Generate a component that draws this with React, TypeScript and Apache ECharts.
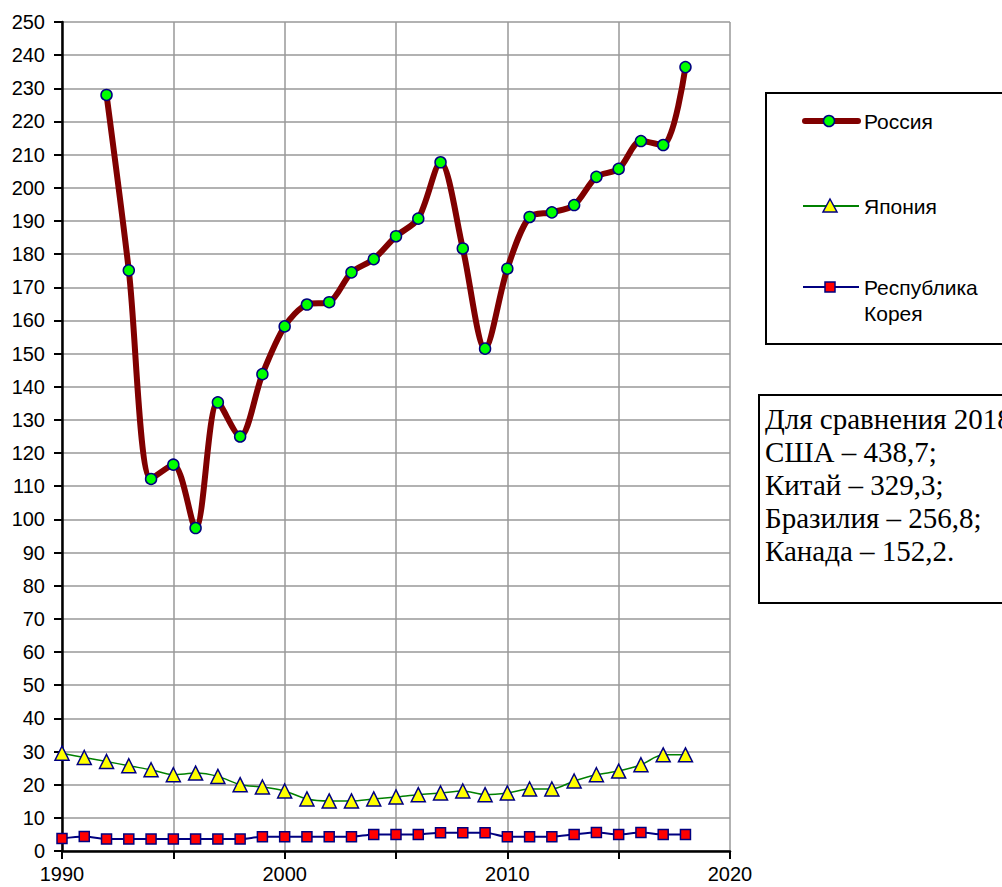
import React, { useEffect, useRef } from "react";
import * as echarts from "echarts";

const years = [1990, 1991, 1992, 1993, 1994, 1995, 1996, 1997, 1998, 1999, 2000, 2001, 2002, 2003, 2004, 2005, 2006, 2007, 2008, 2009, 2010, 2011, 2012, 2013, 2014, 2015, 2016, 2017, 2018];
const russia = [null, null, 228.0, 175.1, 112.2, 116.5, 97.4, 135.3, 125.0, 143.8, 158.2, 164.8, 165.5, 174.5, 178.5, 185.4, 190.7, 207.7, 181.7, 151.5, 175.6, 191.2, 192.6, 194.8, 203.3, 205.7, 214.1, 212.9, 236.4];
const japan = [29.5, 28.2, 27.0, 25.7, 24.5, 23.0, 23.5, 22.5, 20.0, 19.3, 18.1, 15.7, 15.1, 15.1, 15.7, 16.3, 17.0, 17.5, 18.1, 17.0, 17.5, 18.7, 18.7, 21.1, 23.0, 24.1, 26.0, 29.0, 29.0];
const korea = [3.8, 4.4, 3.6, 3.6, 3.6, 3.6, 3.6, 3.6, 3.6, 4.3, 4.3, 4.3, 4.3, 4.3, 5.0, 5.0, 5.0, 5.5, 5.5, 5.5, 4.3, 4.3, 4.3, 5.0, 5.6, 5.0, 5.6, 5.0, 5.0];
const seriesNames = ["Россия", "Япония", "Республика Корея"];
const noteLines = ["Для сравнения 2018 г.:", "США – 438,7;", "Китай – 329,3;", "Бразилия – 256,8;", "Канада – 152,2."];

const SANS = "'Liberation Sans', Arial, sans-serif";
const SERIF = "'Liberation Serif', 'Times New Roman', serif";

function pairs(vals: (number | null)[]) {
  return years.map((y, i) => [y, vals[i]]);
}

export default function App() {
  const ref = useRef<HTMLDivElement>(null);
  useEffect(() => {
    if (!ref.current) return;
    const chart = echarts.init(ref.current, undefined, { renderer: "svg" });
    const option: any = {
      animation: false,
      backgroundColor: "#ffffff",
      grid: { left: 62, right: 272, top: 22, bottom: 36, containLabel: false },
      xAxis: {
        type: "value",
        min: 1990,
        max: 2020,
        interval: 5,
        axisLine: { show: true, onZero: false, lineStyle: { color: "#000", width: 2.5 } },
        axisTick: { show: true, length: 8, lineStyle: { color: "#000", width: 2 } },
        axisLabel: {
          color: "#000",
          fontSize: 20,
          fontFamily: SANS,
          margin: 13,
          formatter: (v: number) => (v % 10 === 0 ? String(v) : ""),
        },
        splitLine: { show: true, lineStyle: { color: "#999999", width: 1.5 } },
      },
      yAxis: {
        type: "value",
        min: 0,
        max: 250,
        interval: 10,
        axisLine: { show: true, lineStyle: { color: "#000", width: 2.5 } },
        axisTick: { show: true, length: 8, lineStyle: { color: "#000", width: 2 } },
        axisLabel: { color: "#000", fontSize: 20, fontFamily: SANS, margin: 17 },
        splitLine: { show: true, lineStyle: { color: "#999999", width: 1.5 } },
      },
      series: [
        {
          name: seriesNames[2],
          type: "line",
          data: pairs(korea),
          smooth: 0.3,
          symbol: "rect",
          symbolSize: 10,
          lineStyle: { color: "#000080", width: 2 },
          itemStyle: { color: "#ff0000", borderColor: "#000080", borderWidth: 1.5 },
          z: 3,
        },
        {
          name: seriesNames[1],
          type: "line",
          data: pairs(japan),
          smooth: 0.3,
          symbol: "triangle",
          symbolSize: 14,
          lineStyle: { color: "#008000", width: 1.5 },
          itemStyle: { color: "#ffff00", borderColor: "#000080", borderWidth: 1.5 },
          z: 4,
        },
        {
          name: seriesNames[0],
          type: "line",
          data: pairs(russia),
          smooth: 0.3,
          connectNulls: false,
          symbol: "circle",
          symbolSize: 11,
          lineStyle: { color: "#800000", width: 6 },
          itemStyle: { color: "#00ff00", borderColor: "#000080", borderWidth: 1.5 },
          z: 5,
        },
      ],
      graphic: [
        {
          type: "rect",
          shape: { x: 766, y: 93, width: 300, height: 251 },
          style: { fill: "#fff", stroke: "#000", lineWidth: 2 },
        },
        {
          type: "line",
          shape: { x1: 805, y1: 121, x2: 858, y2: 121 },
          style: { stroke: "#800000", lineWidth: 6, lineCap: "round" },
        },
        {
          type: "circle",
          shape: { cx: 829, cy: 121, r: 5.5 },
          style: { fill: "#00ff00", stroke: "#000080", lineWidth: 1.5 },
        },
        {
          type: "text",
          x: 864,
          y: 121,
          style: { text: seriesNames[0], font: `21px ${SANS}`, fill: "#000", verticalAlign: "middle" },
        },
        {
          type: "line",
          shape: { x1: 803, y1: 206, x2: 859, y2: 206 },
          style: { stroke: "#008000", lineWidth: 2 },
        },
        {
          type: "polygon",
          shape: { points: [[830, 199], [837, 212], [823, 212]] },
          style: { fill: "#ffff00", stroke: "#000080", lineWidth: 1.5 },
        },
        {
          type: "text",
          x: 864,
          y: 206,
          style: { text: seriesNames[1], font: `21px ${SANS}`, fill: "#000", verticalAlign: "middle" },
        },
        {
          type: "line",
          shape: { x1: 803, y1: 287, x2: 859, y2: 287 },
          style: { stroke: "#000080", lineWidth: 2 },
        },
        {
          type: "rect",
          shape: { x: 825, y: 282, width: 10, height: 10 },
          style: { fill: "#ff0000", stroke: "#000080", lineWidth: 1.5 },
        },
        {
          type: "text",
          x: 864,
          y: 274,
          style: {
            text: "Республика\nКорея",
            font: `21px ${SANS}`,
            fill: "#000",
            verticalAlign: "top",
            lineHeight: 26,
          },
        },
        {
          type: "rect",
          shape: { x: 759, y: 395, width: 300, height: 208 },
          style: { fill: "#fff", stroke: "#000", lineWidth: 2 },
        },
        {
          type: "text",
          x: 765,
          y: 402,
          style: {
            text: noteLines.join("\n"),
            font: `29px ${SERIF}`,
            fill: "#000",
            verticalAlign: "top",
            lineHeight: 33,
          },
        },
      ],
    };
    chart.setOption(option);
    return () => chart.dispose();
  }, []);
  return (
    <div
      ref={ref}
      style={{ position: "absolute", left: 0, top: 0, width: 1002, height: 887, background: "#fff" }}
    />
  );
}
